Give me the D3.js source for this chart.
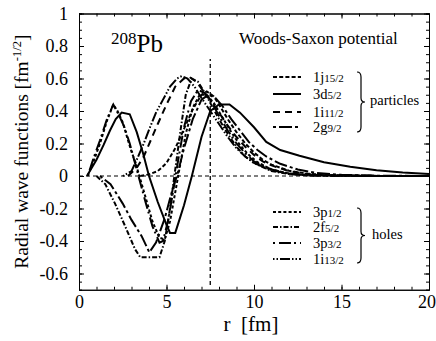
<!DOCTYPE html>
<html>
<head>
<meta charset="utf-8">
<script src="https://cdn.jsdelivr.net/npm/d3@7"></script>
<style>
body { margin: 0; background: #fff; }
svg text { font-family: "Liberation Serif", "DejaVu Serif", serif !important; fill: #000; }
</style>
</head>
<body>
<div id="chart"></div>
<script>
// 208Pb radial wave functions, Woods-Saxon potential

// axis ticks
var rTicks = [0, 5, 10, 15, 20];
var psiTicks = [1, 0.8, 0.6, 0.4, 0.2, 0, -0.2, -0.4, -0.6];
var psiTickLabels = ["1", "0.8", "0.6", "0.4", "0.2", "0", "-0.2", "-0.4", "-0.6"];
var refR = 7.5;
var refSpan = [-0.67, 0.72];

// particle states  [r (fm), psi]
var p1j15 = [[3.5,0],[4,0.01],[4.5,0.03],[5,0.08],[5.5,0.17],[6,0.29],[6.5,0.41],[7,0.5],[7.3,0.52],[7.7,0.49],[8,0.44],[8.5,0.35],[9,0.27],[9.5,0.2],[10,0.145],[10.5,0.1],[11,0.07],[12,0.032],[13,0.015],[14,0.006],[16,0.001],[20,0]];
var p3d5 = [[0.45,0],[1,0.1],[1.4,0.19],[1.77,0.28],[2.1,0.35],[2.44,0.39],[2.9,0.38],[3.3,0.27],[3.66,0.14],[4,0],[4.5,-0.16],[5,-0.3],[5.2,-0.35],[5.5,-0.35],[6,-0.18],[6.45,0],[7,0.24],[7.5,0.4],[8,0.44],[8.6,0.44],[9.2,0.39],[10,0.3],[10.7,0.21],[11.5,0.16],[12.6,0.125],[14,0.085],[15.5,0.057],[17,0.035],[18.5,0.021],[20,0.012]];
var p1i11 = [[2.8,0],[3.3,0.05],[3.7,0.12],[4.1,0.22],[4.5,0.32],[5,0.44],[5.5,0.55],[6,0.6],[6.3,0.61],[6.7,0.58],[7.2,0.51],[7.5,0.47],[8,0.39],[8.5,0.31],[9,0.24],[9.5,0.18],[10,0.13],[10.5,0.09],[11,0.065],[12,0.03],[13,0.013],[14,0.005],[16,0.001],[20,0]];
var p2g9 = [[1.2,0],[1.8,-0.05],[2.5,-0.17],[3,-0.27],[3.58,-0.37],[4.02,-0.47],[4.4,-0.41],[4.9,-0.26],[5.4,-0.06],[5.6,0],[6,0.17],[6.5,0.35],[7,0.47],[7.4,0.5],[7.8,0.48],[8.2,0.43],[8.7,0.35],[9.2,0.28],[9.7,0.21],[10.2,0.16],[10.7,0.12],[11.5,0.075],[12.5,0.04],[13.5,0.02],[15,0.007],[17,0.002],[20,0]];

// hole states
var h3p1 = [[0.5,0],[0.8,0.08],[1.2,0.2],[1.6,0.34],[1.96,0.44],[2.2,0.4],[2.5,0.33],[2.8,0.22],[3,0.15],[3.2,0.09],[3.45,0],[3.8,-0.13],[4.2,-0.28],[4.6,-0.38],[4.9,-0.39],[5.2,-0.28],[5.5,-0.1],[5.8,0.08],[6.1,0.26],[6.5,0.42],[6.9,0.5],[7.3,0.5],[7.7,0.45],[8.2,0.36],[8.7,0.27],[9.2,0.19],[9.7,0.13],[10.2,0.085],[11,0.04],[12,0.015],[13,0.005],[15,0.001],[20,0]];
var h2f5 = [[1,0],[1.5,-0.05],[2.06,-0.17],[2.6,-0.3],[3.2,-0.45],[3.5,-0.5],[4.6,-0.5],[4.9,-0.4],[5.2,-0.2],[5.45,0],[5.8,0.28],[6.1,0.5],[6.44,0.6],[6.8,0.58],[7.2,0.51],[7.6,0.43],[8,0.35],[8.5,0.26],[9,0.18],[9.5,0.12],[10,0.08],[11,0.03],[12,0.012],[13,0.004],[15,0.001],[20,0]];
var h3p3 = [[0.5,0],[0.8,0.1],[1.2,0.22],[1.6,0.35],[1.96,0.44],[2.3,0.37],[2.6,0.3],[2.9,0.2],[3.2,0.08],[3.4,0],[3.8,-0.16],[4.2,-0.31],[4.6,-0.41],[4.8,-0.4],[5.1,-0.27],[5.4,-0.08],[5.7,0.12],[6,0.3],[6.4,0.46],[6.8,0.53],[7.2,0.51],[7.6,0.45],[8,0.37],[8.5,0.28],[9,0.2],[9.5,0.14],[10,0.09],[11,0.04],[12,0.015],[13,0.005],[15,0.001],[20,0]];
var h1i13 = [[2.5,0],[3,0.03],[3.3,0.1],[3.7,0.2],[4.06,0.3],[4.4,0.39],[4.8,0.47],[5.2,0.55],[5.6,0.6],[5.87,0.615],[6.2,0.6],[6.6,0.55],[7,0.48],[7.5,0.4],[8,0.32],[8.5,0.24],[9,0.17],[9.5,0.12],[10,0.08],[11,0.035],[12,0.014],[13,0.005],[15,0.001],[20,0]];

var particleNames = ["1j", "3d", "1i", "2g"];
var particleJ = ["15/2", "5/2", "11/2", "9/2"];
var holeNames = ["3p", "2f", "3p", "1i"];
var holeJ = ["1/2", "5/2", "3/2", "13/2"];

var particles = [p1j15, p3d5, p1i11, p2g9];
var holes = [h3p1, h2f5, h3p3, h1i13];
var particleDash = ["4,2.2", null, "7,5", "3,3,13,3"];
var holeDash = ["3,2.2", "5,2,1.5,2", "2,4,12,3", "1.5,2,1.5,2,10,2"];

var serif = '"Liberation Serif", "DejaVu Serif", serif';

var margin = {top: 13.5, right: 7, bottom: 51.25, left: 79},
	width = 436 - margin.left - margin.right,
	height = 341 - margin.top - margin.bottom;

var svg = d3.select("#chart")
	.append("svg")
		.attr("width", 436)
		.attr("height", 341)
		.style("font-family", serif)
	.append("g")
		.attr("transform", "translate(" + margin.left + "," + margin.top + ")");

var x = d3.scaleLinear().domain([0, 20]).range([0, width]);
var y = d3.scaleLinear().domain([-0.7, 1]).range([height, 0]);

// minor ticks on all four sides
function minor(axis, vals) { return axis.tickValues(vals).tickSize(-3).tickFormat(""); }
var rMinor = d3.range(0, 21, 1);
var psiMinor = d3.range(-0.7, 1.001, 0.05);

svg.append("g").attr("transform", "translate(0," + height + ")").call(minor(d3.axisBottom(x), rMinor));
svg.append("g").call(minor(d3.axisTop(x), rMinor));
svg.append("g").call(minor(d3.axisLeft(y), psiMinor));
svg.append("g").attr("transform", "translate(" + width + ",0)").call(minor(d3.axisRight(y), psiMinor));

var xAxis = d3.axisBottom(x).tickValues(rTicks).tickSizeInner(-5).tickSizeOuter(0).tickPadding(5);
var yAxis = d3.axisLeft(y).tickValues(psiTicks).tickSizeInner(-5).tickSizeOuter(0).tickPadding(11)
	.tickFormat(function(d, i) { return psiTickLabels[i]; });

svg.append("g").attr("class", "axis xaxis")
	.attr("transform", "translate(0," + height + ")")
	.call(xAxis);
svg.append("g").attr("class", "axis").call(yAxis);
svg.append("g").call(d3.axisTop(x).tickValues(rTicks).tickSizeInner(-5).tickSizeOuter(0).tickFormat(""));
svg.append("g").attr("transform", "translate(" + width + ",0)")
	.call(d3.axisRight(y).tickValues(psiTicks).tickSizeInner(-5).tickSizeOuter(0).tickFormat(""));

svg.selectAll("g").attr("font-family", serif);
svg.selectAll(".axis text").style("font-size", "18px").style("font-family", serif);
svg.selectAll(".domain").attr("stroke", "#000");
// last r label sits at the page edge, nudge it in
svg.selectAll(".xaxis text").filter(function(d) { return d === 20; }).attr("dx", -2.5);

// reference lines
svg.append("line")
	.attr("x1", x(0)).attr("x2", x(20))
	.attr("y1", y(0)).attr("y2", y(0))
	.attr("stroke", "#000").attr("stroke-width", 1).attr("stroke-dasharray", "4,3");
svg.append("line")
	.attr("x1", x(refR)).attr("x2", x(refR))
	.attr("y1", y(refSpan[0])).attr("y2", y(refSpan[1]))
	.attr("stroke", "#000").attr("stroke-width", 1.3).attr("stroke-dasharray", "4,3");

var line = d3.line()
	.x(function(d) { return x(d[0]); })
	.y(function(d) { return y(d[1]); });

function drawCurves(list, dashes) {
	svg.selectAll(null)
		.data(list)
	.enter().append("path")
		.attr("d", line)
		.attr("fill", "none")
		.attr("stroke", "#000")
		.attr("stroke-width", 2)
		.attr("stroke-dasharray", function(d, i) { return dashes[i]; });
}
drawCurves(holes, holeDash);
drawCurves(particles, particleDash);

// titles
var yt = svg.append("text")
	.attr("transform", "translate(" + (-51) + "," + (height / 2 + 0) + ")rotate(-90)")
	.style("text-anchor", "middle")
	.style("font-size", "19.5px")
	.style("font-family", serif);
yt.append("tspan").text("Radial wave functions [fm");
yt.append("tspan").attr("dy", -7).style("font-size", "12.5px").text("-1/2");
yt.append("tspan").attr("dy", 7).text("]");

svg.append("text")
	.attr("x", 172).attr("y", 317.5)
	.style("text-anchor", "middle")
	.style("font-size", "21px")
	.style("font-family", serif)
	.text("r\u00a0\u00a0[fm]");

var pb = svg.append("text").attr("x", 32).attr("y", 38.5).style("font-size", "25px").style("font-family", serif);
pb.append("tspan").attr("dy", -8.5).style("font-size", "17px").text("208");
pb.append("tspan").attr("dy", 8.5).text("Pb");

svg.append("text")
	.attr("x", 160).attr("y", 30)
	.style("font-size", "17px")
	.style("font-family", serif)
	.text("Woods-Saxon potential");

// legends
function legend(names, js, dashes, rows, group, groupY, brace) {
	rows.forEach(function(ry, i) {
		var ly = ry - margin.top;
		svg.append("line")
			.attr("x1", 194).attr("x2", 222)
			.attr("y1", ly).attr("y2", ly)
			.attr("stroke", "#000").attr("stroke-width", 2)
			.attr("stroke-dasharray", dashes[i]);
		var t = svg.append("text").attr("x", 234).attr("y", ly + 5)
			.style("font-size", "14.5px").style("font-family", serif);
		t.append("tspan").text(names[i]);
		t.append("tspan").style("font-size", "11px").text(js[i]);
	});
	var bx = 278, t0 = brace[0] - margin.top, t1 = brace[1] - margin.top, m = (t0 + t1) / 2;
	svg.append("path")
		.attr("d", "M" + bx + "," + t0 + "Q" + (bx + 4) + "," + t0 + " " + (bx + 4) + "," + (t0 + 5) +
			"L" + (bx + 4) + "," + (m - 4) + "Q" + (bx + 4) + "," + m + " " + (bx + 8) + "," + m +
			"Q" + (bx + 4) + "," + m + " " + (bx + 4) + "," + (m + 4) +
			"L" + (bx + 4) + "," + (t1 - 5) + "Q" + (bx + 4) + "," + t1 + " " + bx + "," + t1)
		.attr("fill", "none").attr("stroke", "#000").attr("stroke-width", 1.2);
	svg.append("text").attr("x", groupY[0]).attr("y", groupY[1] - margin.top)
		.style("font-size", "14.5px").style("font-family", serif).text(group);
}
legend(particleNames, particleJ, particleDash, [77, 94, 112, 127], "particles", [291, 105], [72, 132]);
legend(holeNames, holeJ, holeDash, [212, 227, 243, 259], "holes", [293, 239], [208, 263]);
</script>
</body>
</html>
